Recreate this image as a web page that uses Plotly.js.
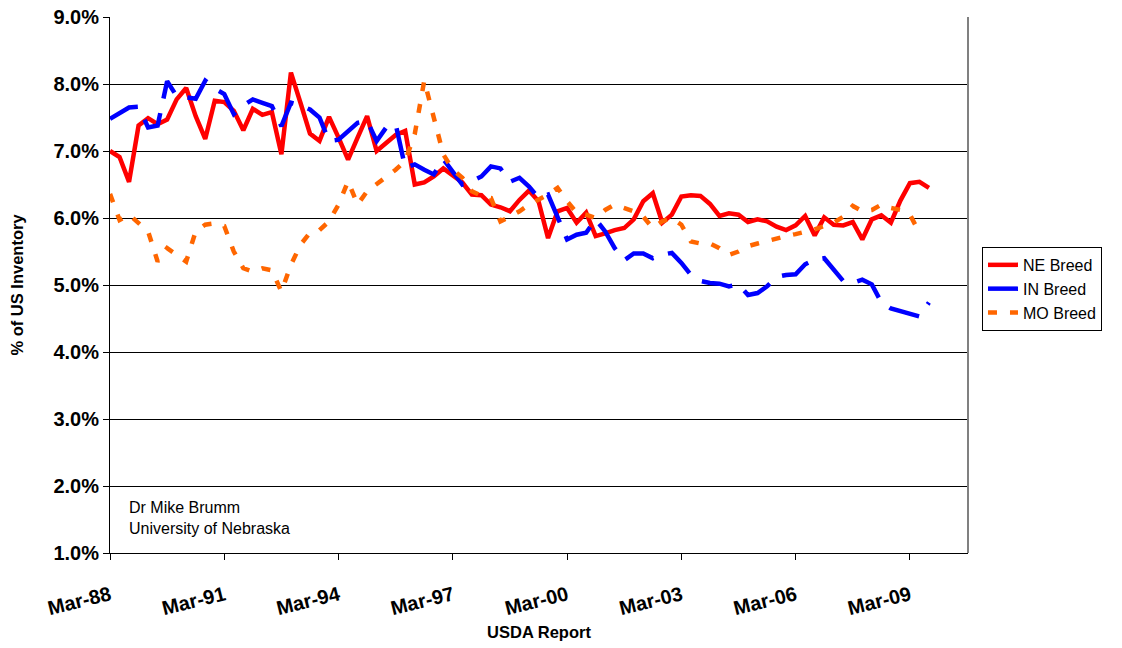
<!DOCTYPE html>
<html>
<head>
<meta charset="utf-8">
<script src="https://cdn.plot.ly/plotly-3.0.1.min.js"></script>
<style>
html,body{margin:0;padding:0;background:#fff;}
#chart{width:1122px;height:648px;}
</style>
</head>
<body>
<div id="chart"></div>
<script>
// USDA report quarters
var categories = [
"Mar-88","Jun-88","Sep-88","Dec-88","Mar-89","Jun-89","Sep-89","Dec-89",
"Mar-90","Jun-90","Sep-90","Dec-90","Mar-91","Jun-91","Sep-91","Dec-91",
"Mar-92","Jun-92","Sep-92","Dec-92","Mar-93","Jun-93","Sep-93","Dec-93",
"Mar-94","Jun-94","Sep-94","Dec-94","Mar-95","Jun-95","Sep-95","Dec-95",
"Mar-96","Jun-96","Sep-96","Dec-96","Mar-97","Jun-97","Sep-97","Dec-97",
"Mar-98","Jun-98","Sep-98","Dec-98","Mar-99","Jun-99","Sep-99","Dec-99",
"Mar-00","Jun-00","Sep-00","Dec-00","Mar-01","Jun-01","Sep-01","Dec-01",
"Mar-02","Jun-02","Sep-02","Dec-02","Mar-03","Jun-03","Sep-03","Dec-03",
"Mar-04","Jun-04","Sep-04","Dec-04","Mar-05","Jun-05","Sep-05","Dec-05",
"Mar-06","Jun-06","Sep-06","Dec-06","Mar-07","Jun-07","Sep-07","Dec-07",
"Mar-08","Jun-08","Sep-08","Dec-08","Mar-09","Jun-09","Sep-09"
];

// % of US inventory
var neBreed = [
7.0,6.91,6.54,7.38,7.49,7.4,7.47,7.77,7.94,7.52,
7.18,7.75,7.73,7.6,7.31,7.63,7.54,7.58,6.95,8.17,
7.72,7.26,7.15,7.51,7.2,6.87,7.2,7.52,7.0,7.12,
7.24,7.3,6.5,6.53,6.62,6.74,6.64,6.53,6.35,6.34,
6.2,6.16,6.1,6.27,6.41,6.25,5.7,6.1,6.15,5.93,
6.08,5.73,5.77,5.82,5.85,5.98,6.25,6.37,5.93,6.05,
6.32,6.34,6.33,6.21,6.03,6.07,6.05,5.94,5.98,5.95,
5.87,5.82,5.89,6.03,5.74,6.01,5.9,5.89,5.94,5.68,
5.98,6.04,5.93,6.26,6.52,6.54,6.45
];

var inBreed = [
7.48,7.57,7.65,7.66,7.35,7.38,8.04,7.82,7.8,7.78,
8.05,7.93,7.85,7.55,7.68,7.77,7.72,7.67,7.37,7.72,
7.68,7.62,7.5,7.15,7.17,7.3,7.42,7.45,7.15,7.35,
7.4,6.75,6.8,6.72,6.65,6.88,6.68,6.5,6.55,6.62,
6.77,6.74,6.54,6.6,6.47,6.3,6.35,6.0,5.68,5.75,
5.78,5.98,5.8,5.55,5.37,5.47,5.47,5.4,5.45,5.48,
5.33,5.15,5.06,5.03,5.02,4.98,5.01,4.85,4.88,4.98,
5.12,5.15,5.16,5.31,5.38,5.4,5.23,5.06,5.03,5.08,
5.01,4.74,4.65,4.61,4.58,4.53,4.74
];

var moBreed = [
6.36,5.97,6.05,5.92,5.8,5.35,5.55,5.45,5.35,5.8,
5.9,5.92,5.88,5.5,5.25,5.2,5.25,5.22,4.9,5.3,
5.6,5.78,5.82,5.95,6.2,6.55,6.2,6.4,6.5,6.62,
6.72,6.85,7.25,8.05,7.5,6.95,6.72,6.6,6.4,6.33,
6.3,5.95,6.02,6.1,6.2,6.28,6.35,6.45,6.25,6.08,
6.05,6.0,6.12,6.2,6.15,6.1,6.02,5.85,5.95,6.0,
5.9,5.65,5.62,5.62,5.55,5.45,5.5,5.58,5.62,5.66,
5.7,5.73,5.76,5.79,5.83,5.88,5.93,6.02,6.18,6.1,
6.12,6.2,6.15,6.12,6.05,5.78
];

var tickLabels = ["Mar-88","Mar-91","Mar-94","Mar-97","Mar-00","Mar-03","Mar-06","Mar-09"];
var yTicks = [1,2,3,4,5,6,7,8,9];
var yTickLabels = ["1.0%","2.0%","3.0%","4.0%","5.0%","6.0%","7.0%","8.0%","9.0%"];

var FONT = "Liberation Sans, Arial, sans-serif";

var traces = [
  {x: categories.slice(0, neBreed.length), y: neBreed, name: "NE Breed", type: "scatter", mode: "lines",
   line: {color: "#FF0000", width: 4.5}},
  {x: categories.slice(0, inBreed.length), y: inBreed, name: "IN Breed", type: "scatter", mode: "lines",
   line: {color: "#0000FF", width: 4.5, dash: "31px,15px"}},
  {x: categories.slice(0, moBreed.length), y: moBreed, name: "MO Breed", type: "scatter", mode: "lines",
   line: {color: "#FF6600", width: 4.5, dash: "9px,13px"}}
];

var layout = {
  width: 1122, height: 648,
  margin: {l: 110, r: 154, t: 17, b: 95},
  paper_bgcolor: "#ffffff", plot_bgcolor: "#ffffff",
  showlegend: true,
  font: {family: FONT, color: "#000000"},
  xaxis: {
    type: "category",
    categoryorder: "array", categoryarray: categories,
    range: [0, 90.1],
    tickmode: "array", tickvals: tickLabels, ticktext: tickLabels,
    tickangle: -14,
    ticks: "outside", ticklen: 6, tickcolor: "#000", tickwidth: 1,
    ticklabelstandoff: 16,
    tickfont: {family: FONT, size: 20, weight: 700, color: "#000"},
    showgrid: false, zeroline: false,
    showline: true, linecolor: "#000", linewidth: 1,
    title: {text: "USDA Report", font: {family: FONT, size: 16.5, weight: 700, color: "#000"}, standoff: 8},
    automargin: false, fixedrange: true
  },
  yaxis: {
    range: [1, 9],
    tickmode: "array", tickvals: yTicks, ticktext: yTickLabels,
    ticks: "outside", ticklen: 6, tickcolor: "#000", tickwidth: 1,
    tickfont: {family: FONT, size: 20, weight: 700, color: "#000"},
    showgrid: true, gridcolor: "#000000", gridwidth: 1,
    zeroline: false,
    showline: true, linecolor: "#000", linewidth: 1,
    title: {text: "% of US Inventory", font: {family: FONT, size: 16.5, weight: 700, color: "#000"}, standoff: 25},
    automargin: false, fixedrange: true
  },
  legend: {
    x: 1.0163, y: 0.571, xanchor: "left", yanchor: "top",
    bgcolor: "#ffffff", bordercolor: "#000000", borderwidth: 1,
    font: {family: FONT, size: 16, color: "#000"},
    tracegroupgap: 0, itemwidth: 30
  },
  shapes: [
    {type: "line", xref: "paper", yref: "paper", x0: 1, x1: 1, y0: 0, y1: 1,
     line: {color: "#808080", width: 2}}
  ],
  annotations: [
    {xref: "paper", yref: "paper", x: 0.0198, y: 0.066, xanchor: "left", yanchor: "middle",
     align: "left", showarrow: false,
     text: "Dr Mike Brumm<br>University of Nebraska",
     font: {family: FONT, size: 16, color: "#000"}}
  ]
};

Plotly.newPlot("chart", traces, layout, {displayModeBar: false, staticPlot: true});
</script>
</body>
</html>
